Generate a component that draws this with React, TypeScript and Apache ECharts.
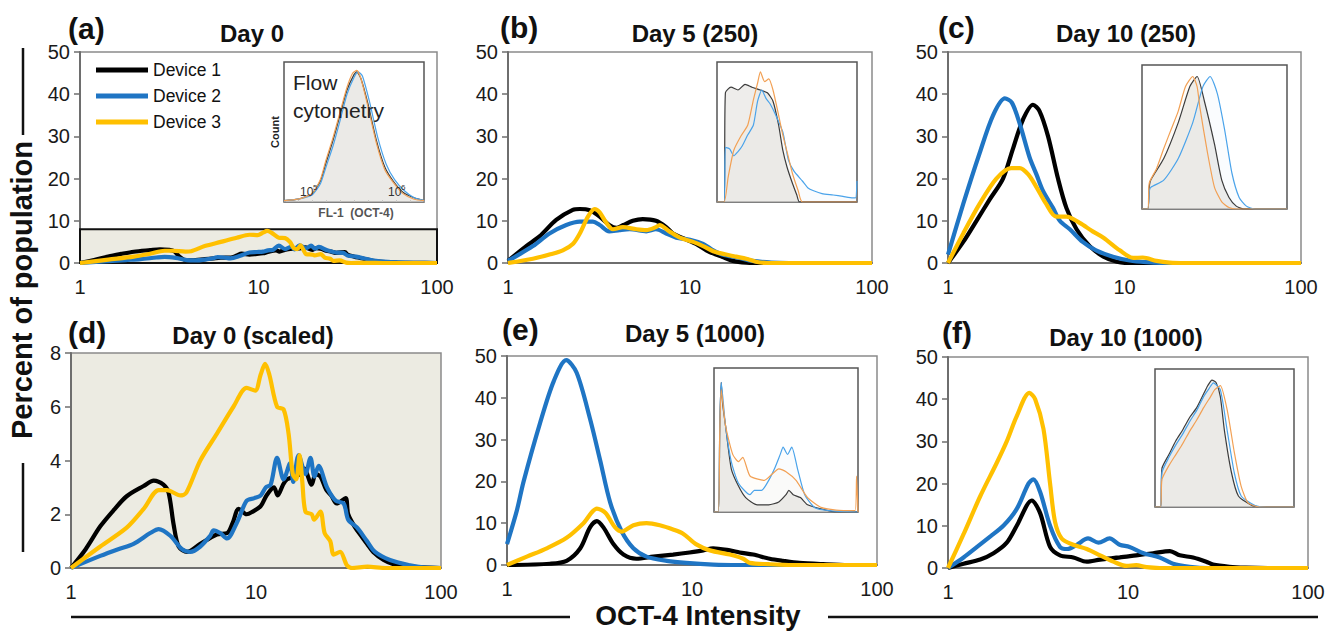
import React, { useEffect, useRef } from "react";
import * as echarts from "echarts";

const FONT = "'Liberation Sans', Arial, Helvetica, sans-serif";

// ---------- categories / labels ----------
const devices = ["Device 1", "Device 2", "Device 3"];
const panelLetters = ["(a)", "(b)", "(c)", "(d)", "(e)", "(f)"];
const panelTitles = ["Day 0", "Day 5 (250)", "Day 10 (250)", "Day 0 (scaled)", "Day 5 (1000)", "Day 10 (1000)"];
const yMaxes = [50, 50, 50, 8, 50, 50];
const yIntervals = [10, 10, 10, 2, 10, 10];
const xMin = 1;
const xMax = 100;
const shadedBandMax = 8; // panel (a) highlighted band, shown scaled in (d)
const yAxisTitle = "Percent of population";
const xAxisTitle = "OCT-4 Intensity";
const insetLabelLines = ["Flow", "cytometry"];
const insetYLabel = "Count";
const insetXLabel = "FL-1  (OCT-4)";
const insetTickBases = ["10", "10"];
const insetTickExponents = ["5", "6"];

// ---------- Day 0 (panels a & d) [intensity, percent] ----------
const day0Dev1 = [[1,0],[1.2,0.7],[1.44,1.55],[1.7,2.15],[2.0,2.67],[2.47,3.05],[2.8,3.25],[3.16,3.1],[3.37,2.8],[3.59,1.6],[3.82,0.8],[4.24,0.6],[5.0,0.9],[5.6,1.1],[6.15,1.25],[7.0,1.3],[7.5,1.7],[8.06,2.2],[8.9,2.0],[9.6,2.1],[10.6,2.3],[11.4,2.7],[12.5,3.0],[13.1,2.7],[14.0,3.1],[14.7,3.3],[16,3.4],[17.4,3.5],[18.2,3.7],[20,3.1],[21,3.5],[22.3,3.4],[24,2.9],[25.5,2.7],[27.3,2.4],[30.5,2.6],[31.5,2.0],[34.4,1.5],[37,1.2],[39.8,0.9],[43,0.6],[49,0.3],[55,0.15],[60,0.1],[75,0.03],[100,0]];
const day0Dev2 = [[1,0],[1.44,0.45],[1.8,0.7],[2.18,0.9],[2.68,1.3],[2.98,1.45],[3.44,1.2],[3.98,0.7],[4.42,0.6],[5.0,0.8],[5.66,1.2],[5.9,1.4],[6.4,1.3],[6.97,1.1],[7.9,1.7],[8.9,2.5],[9.8,2.6],[10.6,2.7],[11.3,3.0],[12,3.1],[13,4.1],[14.1,3.3],[15.3,3.9],[15.9,3.2],[17,4.2],[18.5,3.5],[19.7,4.1],[20.7,3.4],[21.8,3.8],[24.2,3.0],[27,2.5],[29.8,2.4],[31.5,1.8],[35.2,1.5],[39.8,1.0],[44,0.6],[53,0.3],[68,0.1],[80,0.02],[100,0]];
const day0Dev3 = [[1,0],[1.44,0.8],[2.0,1.5],[2.47,2.2],[2.98,2.9],[3.3,2.9],[3.9,2.7],[4.2,2.8],[5.0,4.0],[6.15,5.0],[7.55,6.0],[8.9,6.7],[9.9,6.6],[10.6,7.2],[11.2,7.6],[11.8,7.2],[13,6.0],[14.1,5.9],[15,5.0],[15.8,3.5],[16.5,3.3],[17.2,4.2],[17.8,3.2],[18.5,2.1],[20,2.0],[20.6,1.8],[22.3,2.1],[23.5,1.3],[25.2,1.0],[26.3,0.5],[28.5,0.6],[31,0.1],[33,0],[40,0.05],[50,0],[100,0]];

// ---------- Day 5 (250) ----------
const day5s250Dev1 = [[1,0.5],[1.26,4],[1.49,6.3],[1.84,10.2],[2.27,12.6],[2.48,12.8],[2.81,12.5],[3.19,11],[3.6,9],[3.94,8.3],[4.3,9],[4.85,10],[5.5,10.4],[6.5,10],[7.4,8.5],[8.06,7],[9.6,5.5],[10.8,4.5],[12.3,3],[13.9,2],[15,1.5],[17.2,0.5],[20.4,0.1],[25,0],[100,0]];
const day5s250Dev2 = [[1,0.5],[1.37,4],[1.69,7],[2.09,9],[2.48,9.8],[2.93,9.8],[3.19,9],[3.6,7.5],[4.1,7.8],[4.66,8],[5.75,7.5],[6.5,8],[7.4,7],[8.4,6],[10,5.5],[11.8,4.5],[13.4,3],[15,2],[18.7,1.2],[22,0.5],[28,0.1],[35,0],[100,0]];
const day5s250Dev3 = [[1,0],[1.37,1],[1.69,2],[2.0,3],[2.27,4.5],[2.48,7],[2.75,11],[2.99,12.8],[3.19,12],[3.47,9.5],[3.77,8],[4.28,8.5],[5.07,8],[5.75,7.8],[6.5,8.5],[6.8,9],[7.7,7.5],[8.8,6],[10.4,5],[11.8,4],[13.4,2.8],[15.8,2],[17.9,1.5],[20.4,1],[23,0.3],[27,0],[100,0]];

// ---------- Day 10 (250) ----------
const day10s250Dev1 = [[1,0],[1.22,5],[1.45,10],[1.72,15],[2.05,20],[2.33,27],[2.66,34],[3.03,37.5],[3.3,36],[3.69,30],[4.2,20],[4.69,13],[5.35,8],[6.35,4],[7.6,1.5],[9.06,0.3],[10.5,0],[100,0]];
const day10s250Dev2 = [[1,2],[1.22,14],[1.51,26],[1.8,35],[2.1,39],[2.3,38],[2.55,33],[2.9,25],[3.17,21],[3.46,17],[3.94,13],[4.3,10],[4.9,8],[5.8,5],[6.9,3],[8.6,1.5],[10.7,0.6],[13.3,0.2],[17,0],[100,0]];
const day10s250Dev3 = [[1,0],[1.22,7],[1.51,14],[1.88,20],[2.28,22.5],[2.55,22.5],[2.85,21],[3.17,18],[3.6,14],[4.1,11],[4.69,11],[5.57,9.5],[6.6,7.5],[7.6,6],[9.4,3],[11.2,1.2],[12.7,1.3],[15.2,0.5],[18,0.1],[22,0],[100,0]];

// ---------- Day 5 (1000) ----------
const day5s1000Dev1 = [[1,0],[1.71,0.3],[2.1,1],[2.49,4],[2.81,9],[3.06,10.5],[3.32,9],[3.76,5],[4.26,2.5],[5.0,1.5],[6.18,2],[7.9,2.5],[9.7,3],[11.5,3.5],[13,4],[16,3.5],[18.1,3],[21.4,2.5],[26.3,1.5],[31,1],[38,0.5],[51,0.2],[70,0],[100,0]];
const day5s1000Dev2 = [[1,5],[1.13,13],[1.23,20],[1.51,34],[1.79,44],[2.09,49],[2.38,46],[2.81,35],[3.19,25],[3.61,15],[4.17,8],[4.82,4],[5.68,2],[7.3,1],[9.3,0.5],[13,0.1],[18,0],[100,0]];
const day5s1000Dev3 = [[1,0],[1.28,2],[1.64,4],[2.1,6.5],[2.59,10],[3.06,13.5],[3.4,12.5],[3.84,9],[4.17,8],[4.82,9.5],[5.68,10],[6.7,9.5],[7.9,8.5],[8.95,7.5],[10.5,5],[12.5,3.5],[16,2.5],[18.9,1.5],[20.5,0.5],[26,0.2],[35,0],[100,0]];

// ---------- Day 10 (1000) ----------
const day10s1000Dev1 = [[1,0],[1.22,1],[1.51,2],[1.79,3.5],[2.12,6],[2.41,10],[2.92,16],[3.25,13],[3.69,5],[4.19,3],[4.97,2.5],[5.9,1.5],[7.0,2],[9.0,2.5],[11.1,3],[13.8,3.5],[17.1,4],[19.4,3],[23,2.5],[27.2,1.5],[29.7,0.8],[36.6,0.3],[45,0.1],[60,0],[100,0]];
const day10s1000Dev2 = [[1,0],[1.22,2.5],[1.45,5],[1.72,7.5],[2.03,10],[2.41,14],[2.8,20],[2.98,21],[3.25,18],[3.69,10],[4.19,5],[4.6,4.5],[5.19,5.5],[6.0,7],[6.85,6],[7.9,7],[9.0,5.5],[10.2,5],[12.2,3.5],[15,2.5],[17.8,1],[22,0.3],[28,0],[100,0]];
const day10s1000Dev3 = [[1,0],[1.22,8],[1.51,17],[1.87,25],[2.12,30],[2.41,36],[2.83,41.5],[3.05,40],[3.39,33],[3.69,20],[3.93,11],[4.28,7],[4.97,5.5],[5.9,4.5],[7.0,3],[8.3,1.5],[9.8,0.5],[11.1,0.7],[12.7,0.2],[15,0],[100,0]];

// ---------- flow cytometry insets [channel %, count %] ----------
const insetA1 = [[0,1],[10,2],[20,6],[26,15],[30,28],[35,44],[40,62],[45,80],[50,91],[52,93],[55,88],[60,70],[66,44],[72,25],[78,15],[85,7],[93,3],[100,1]];
const insetA2 = [[0,1],[10,2],[20,5],[26,13],[30,25],[35,40],[40,58],[45,77],[50,89],[53,93],[56,90],[61,72],[67,46],[73,27],[79,16],[86,8],[93,3],[100,1]];
const insetA3 = [[0,1],[10,2],[20,6],[26,16],[30,30],[35,46],[40,64],[45,82],[49,92],[52,94],[55,88],[60,68],[66,42],[72,23],[78,14],[85,6],[93,2],[100,1]];
const insetB1 = [[0,0],[5,0],[6,78],[10,82],[15,80],[20,84],[25,82],[31,80],[36,78],[40,72],[44,55],[47,37],[50,25],[54,13],[57,5],[59,0],[100,0]];
const insetB2 = [[0,0],[5,0],[6,39],[9,38],[12,33],[15,36],[18,40],[22,48],[26,55],[29,72],[32,80],[35,74],[38,70],[42,62],[47,50],[51,30],[55,22],[61,15],[65,10],[69,8],[75,6],[83,5],[90,4],[97,3],[99,3],[100,15]];
const insetB3 = [[0,0],[5,0],[8,18],[12,37],[17,47],[22,55],[26,73],[29,85],[31,93],[34,86],[37,88],[40,80],[44,62],[47,48],[51,32],[54,20],[58,8],[61,0],[100,0]];
const insetC1 = [[0,0],[4,0],[5,15],[6,20],[15,35],[25,60],[33,85],[38,92],[43,75],[50,45],[55,20],[60,8],[65,2],[70,0],[100,0]];
const insetC2 = [[0,0],[4,0],[5,12],[6,15],[15,20],[25,35],[35,60],[42,85],[47,92],[52,80],[57,55],[62,25],[67,8],[72,2],[78,0],[100,0]];
const insetC3 = [[0,0],[4,0],[5,18],[10,28],[15,42],[20,55],[25,68],[30,85],[35,92],[38,85],[40,70],[45,40],[50,15],[55,5],[60,1],[65,0],[100,0]];
const insetE1 = [[0,0],[3,0],[4,60],[5,90],[6,75],[8,60],[12,30],[17,18],[22,10],[30,5],[38,5],[45,7],[50,12],[52,15],[55,12],[60,10],[65,5],[75,2],[85,0],[100,0]];
const insetE2 = [[0,0],[3,0],[4,58],[5,90],[8,60],[12,35],[17,20],[25,12],[28,15],[33,15],[38,22],[42,30],[46,40],[48,45],[51,40],[54,45],[58,30],[63,12],[70,3],[80,1],[100,0]];
const insetE3 = [[0,0],[3,0],[4,55],[5,85],[8,60],[13,40],[17,35],[20,38],[25,25],[35,22],[40,26],[45,30],[50,28],[57,22],[65,10],[75,3],[90,1],[98,1],[99,25],[100,0]];
const insetF1 = [[0,0],[4,0],[5,28],[10,38],[15,48],[20,56],[25,65],[30,72],[35,82],[38,88],[41,92],[44,90],[47,80],[50,55],[55,25],[60,8],[70,1],[80,0],[100,0]];
const insetF2 = [[0,0],[4,0],[5,25],[10,36],[15,45],[20,53],[25,62],[30,70],[35,80],[39,86],[42,90],[47,85],[52,55],[57,25],[62,8],[72,1],[80,0],[100,0]];
const insetF3 = [[0,0],[4,0],[5,20],[10,30],[15,38],[20,46],[25,55],[30,63],[35,72],[40,80],[43,85],[47,88],[52,70],[57,40],[62,15],[67,3],[75,0],[100,0]];

const panelSeries = [
  [day0Dev1, day0Dev2, day0Dev3],
  [day5s250Dev1, day5s250Dev2, day5s250Dev3],
  [day10s250Dev1, day10s250Dev2, day10s250Dev3],
  [day0Dev1, day0Dev2, day0Dev3],
  [day5s1000Dev1, day5s1000Dev2, day5s1000Dev3],
  [day10s1000Dev1, day10s1000Dev2, day10s1000Dev3],
];
const insetSeries = [
  [insetA1, insetA2, insetA3],
  [insetB1, insetB2, insetB3],
  [insetC1, insetC2, insetC3],
  [insetE1, insetE2, insetE3],
  [insetF1, insetF2, insetF3],
];

// ---------- layout & styles ----------
const deviceColors = ["#000000", "#1f75c4", "#ffc000"];
const insetLineColors = ["#3c3c3c", "#4aa3ea", "#f2a054"];
const insetAreaColors = ["rgba(226,225,222,0.85)", "rgba(180,215,245,0.1)", "rgba(250,210,170,0.08)"];
const beige = "#ecebe2";
const mainGrids = [
  { left: 80, top: 52, width: 357, height: 211 },
  { left: 508, top: 52, width: 364, height: 211 },
  { left: 948, top: 52, width: 353, height: 211 },
  { left: 71, top: 353, width: 370, height: 215 },
  { left: 507, top: 356, width: 370, height: 209 },
  { left: 948, top: 357, width: 360, height: 211 },
];
const insetGrids = [
  { left: 284, top: 62, width: 140, height: 140 },
  { left: 717, top: 62, width: 140, height: 140 },
  { left: 1142, top: 65, width: 145, height: 144 },
  { left: 714, top: 368, width: 144, height: 144 },
  { left: 1155, top: 369, width: 139, height: 138 },
];
const letterPos = [[68, 28], [500, 27], [938, 27], [68, 332], [502, 329], [942, 332]];
const titlePos = [[252, 33], [695, 33], [1126, 33], [253, 335], [695, 333], [1126, 337]];
const insetTickPos = [[300, 192], [388, 192]];

function buildOption() {
  const grid: any[] = [];
  const xAxis: any[] = [];
  const yAxis: any[] = [];
  const series: any[] = [];

  mainGrids.forEach((g, p) => {
    grid.push({
      ...g,
      show: true,
      borderColor: "#8a8a8a",
      borderWidth: 1.5,
      backgroundColor: p === 3 ? beige : "transparent",
      containLabel: false,
    });
    xAxis.push({
      type: "log",
      logBase: 10,
      min: xMin,
      max: xMax,
      gridIndex: p,
      axisLine: { show: true, lineStyle: { color: "#6e6e6e", width: 2 } },
      axisTick: { show: false },
      axisLabel: { fontSize: 20, color: "#1a1a1a", margin: 14, fontFamily: FONT },
      splitLine: { show: false },
      minorTick: { show: false },
    });
    yAxis.push({
      type: "value",
      min: 0,
      max: yMaxes[p],
      interval: yIntervals[p],
      gridIndex: p,
      axisLine: { show: true, lineStyle: { color: "#6e6e6e", width: 2 } },
      axisTick: { show: true, length: 6, lineStyle: { color: "#6e6e6e", width: 1.5 } },
      axisLabel: { fontSize: 20, color: "#1a1a1a", margin: 10, fontFamily: FONT },
      splitLine: { show: false },
    });
  });

  insetGrids.forEach((g, i) => {
    const idx = mainGrids.length + i;
    grid.push({ ...g, show: true, borderColor: "#555555", borderWidth: 1.5, backgroundColor: "#ffffff" });
    xAxis.push({
      type: "value", min: 0, max: 100, interval: 10, gridIndex: idx,
      axisLine: { show: false },
      axisTick: { show: i === 0, inside: true, length: 2, lineStyle: { color: "#999", width: 1 } },
      axisLabel: { show: false }, splitLine: { show: false },
    });
    yAxis.push({
      type: "value", min: 0, max: 100, gridIndex: idx,
      axisLine: { show: false }, axisTick: { show: false }, axisLabel: { show: false }, splitLine: { show: false },
    });
  });

  // shaded band in panel (a)
  series.push({
    type: "line",
    name: "band",
    xAxisIndex: 0,
    yAxisIndex: 0,
    data: [],
    z: 1,
    silent: true,
    markArea: {
      silent: true,
      itemStyle: { color: beige, borderColor: "#111111", borderWidth: 2 },
      data: [[{ xAxis: xMin, yAxis: 0 }, { xAxis: xMax, yAxis: shadedBandMax }]],
    },
  });

  panelSeries.forEach((set, p) => {
    set.forEach((data, d) => {
      series.push({
        type: "line",
        name: devices[d],
        xAxisIndex: p,
        yAxisIndex: p,
        data,
        smooth: 0.3,
        symbol: "none",
        showSymbol: false,
        z: 3,
        lineStyle: { color: deviceColors[d], width: 4.2 },
        itemStyle: { color: deviceColors[d] },
      });
    });
  });

  insetSeries.forEach((set, i) => {
    const idx = mainGrids.length + i;
    set.forEach((data, d) => {
      series.push({
        type: "line",
        name: "inset-" + i + "-" + d,
        xAxisIndex: idx,
        yAxisIndex: idx,
        data,
        smooth: 0.2,
        symbol: "none",
        showSymbol: false,
        z: 4,
        lineStyle: { color: insetLineColors[d], width: 1.2 },
        areaStyle: { color: insetAreaColors[d] },
      });
    });
  });

  const graphics: any[] = [];
  panelLetters.forEach((t, p) => {
    graphics.push({
      type: "text", x: letterPos[p][0], y: letterPos[p][1], z: 100,
      style: { text: t, fontSize: 30, fontWeight: "bold", fontFamily: FONT, fill: "#111", textAlign: "left", textVerticalAlign: "middle" },
    });
  });
  panelTitles.forEach((t, p) => {
    graphics.push({
      type: "text", x: titlePos[p][0], y: titlePos[p][1], z: 100,
      style: { text: t, fontSize: 24, fontWeight: "bold", fontFamily: FONT, fill: "#111", textAlign: "center", textVerticalAlign: "middle" },
    });
  });
  // axis titles
  graphics.push({
    type: "text", x: 22, y: 290, rotation: Math.PI / 2, z: 100,
    style: { text: yAxisTitle, fontSize: 29, fontWeight: "bold", fontFamily: FONT, fill: "#111", textAlign: "center", textVerticalAlign: "middle" },
  });
  graphics.push({
    type: "text", x: 698, y: 615, z: 100,
    style: { text: xAxisTitle, fontSize: 28, fontWeight: "bold", fontFamily: FONT, fill: "#111", textAlign: "center", textVerticalAlign: "middle" },
  });
  const lines = [
    [23, 48, 23, 135],
    [23, 463, 23, 552],
    [71, 617, 570, 617],
    [828, 617, 1318, 617],
  ];
  lines.forEach((l) => {
    graphics.push({
      type: "line", z: 100,
      shape: { x1: l[0], y1: l[1], x2: l[2], y2: l[3] },
      style: { stroke: "#111", lineWidth: 2.5 },
    });
  });
  // inset (a) annotations
  insetLabelLines.forEach((t, i) => {
    graphics.push({
      type: "text", x: 293, y: 82 + i * 28, z: 100,
      style: { text: t, fontSize: 21, fontFamily: FONT, fill: "#222", textAlign: "left", textVerticalAlign: "middle" },
    });
  });
  graphics.push({
    type: "text", x: 275, y: 132, rotation: Math.PI / 2, z: 100,
    style: { text: insetYLabel, fontSize: 11, fontWeight: "bold", fontFamily: FONT, fill: "#222", textAlign: "center", textVerticalAlign: "middle" },
  });
  insetTickBases.forEach((b, i) => {
    graphics.push({
      type: "text", x: insetTickPos[i][0], y: insetTickPos[i][1], z: 100,
      style: { text: b, fontSize: 12, fontFamily: FONT, fill: "#333", textAlign: "left", textVerticalAlign: "middle" },
    });
    graphics.push({
      type: "text", x: insetTickPos[i][0] + 13, y: insetTickPos[i][1] - 5, z: 100,
      style: { text: insetTickExponents[i], fontSize: 8, fontFamily: FONT, fill: "#333", textAlign: "left", textVerticalAlign: "middle" },
    });
  });
  graphics.push({
    type: "text", x: 356, y: 213, z: 100,
    style: { text: insetXLabel, fontSize: 12, fontWeight: "bold", fontFamily: FONT, fill: "#555", textAlign: "center", textVerticalAlign: "middle" },
  });

  return {
    animation: false,
    backgroundColor: "#ffffff",
    textStyle: { fontFamily: FONT },
    legend: {
      data: devices,
      left: 91,
      top: 55,
      orient: "vertical",
      icon: "rect",
      itemWidth: 52,
      itemHeight: 5,
      itemGap: 6,
      selectedMode: false,
      textStyle: { fontSize: 17.5, color: "#111", lineHeight: 20, fontFamily: FONT },
    },
    grid,
    xAxis,
    yAxis,
    series,
    graphic: { elements: graphics },
  };
}

export default function App() {
  const ref = useRef<HTMLDivElement>(null);
  useEffect(() => {
    if (!ref.current) return;
    const chart = echarts.init(ref.current, undefined, { renderer: "svg" });
    chart.setOption(buildOption() as any);
    return () => chart.dispose();
  }, []);
  return (
    <div
      ref={ref}
      style={{ position: "absolute", left: 0, top: 0, width: 1338, height: 634, background: "#fff" }}
    />
  );
}
